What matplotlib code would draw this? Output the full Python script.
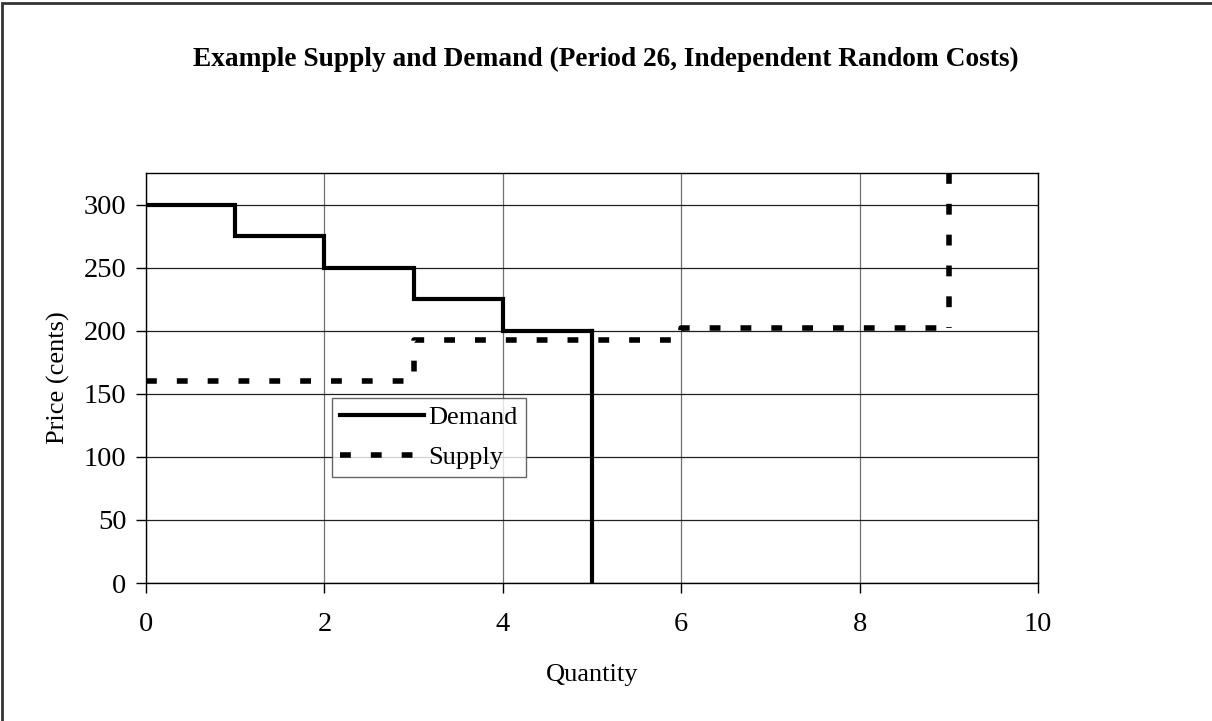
import matplotlib
matplotlib.use("Agg")
import matplotlib.pyplot as plt
from matplotlib.patches import Rectangle

# Step data: each unit's value, drawn as flat steps
demand_qty = [0, 1, 2, 3, 4, 5]
demand_price = [300, 275, 250, 225, 200, 200]
supply_qty = [0, 3, 6, 9]
supply_price = [160, 193, 202, 202]
supply_cap = 9
x_ticks = [0, 2, 4, 6, 8, 10]
y_ticks = [0, 50, 100, 150, 200, 250, 300]
y_max = 325

plt.rcParams['font.family'] = ['Liberation Serif', 'DejaVu Serif']

fig = plt.figure(figsize=(12.12, 7.21), dpi=100)
ax = fig.add_axes([0.1205, 0.1914, 0.7359, 0.5686])

dash = (0, (1.95, 3.6))

# Demand: steps down, then vertical drop to zero at the last unit
ax.step(demand_qty, demand_price, where='post', color='black', lw=3.0,
        solid_joinstyle='miter', label='Demand', zorder=4)
ax.plot([demand_qty[-1], demand_qty[-1]], [demand_price[-1], 0], color='black',
        lw=3.0, zorder=4)

# Supply: steps up, then vertical at capacity running off the top
ax.step(supply_qty, supply_price, where='post', color='black', lw=4.0,
        linestyle=dash, label='Supply', zorder=3)
ax.plot([supply_cap, supply_cap], [y_max, supply_price[-1]], color='black', lw=4.0,
        linestyle=dash, zorder=3)

ax.set_xlim(0, 10)
ax.set_ylim(0, y_max)
ax.set_xticks(x_ticks)
ax.set_yticks(y_ticks)
ax.xaxis.grid(True, color='#707070', lw=0.9)
ax.yaxis.grid(True, color='#202020', lw=0.9)
ax.set_axisbelow(True)
for s in ax.spines.values():
    s.set_color('black')
    s.set_linewidth(1.0)
ax.tick_params(axis='both', direction='out', length=7, width=1, labelsize=20.5,
               colors='black')
ax.tick_params(axis='y', pad=7)
ax.tick_params(axis='x', pad=14)

ax.set_xlabel('Quantity', fontsize=19, labelpad=19)
ax.set_ylabel('Price (cents)', fontsize=19, labelpad=10)
fig.text(0.5, 0.918, 'Example Supply and Demand (Period 26, Independent Random Costs)',
         ha='center', va='center', fontsize=19.7, fontweight='bold')

leg = ax.legend(loc='upper left', bbox_to_anchor=(0.2085, 0.451), fontsize=19,
                frameon=True, fancybox=False, borderpad=0.3, handlelength=3.2,
                handletextpad=0.15, labelspacing=0.6, borderaxespad=0)
leg.get_frame().set_edgecolor('#404040')
leg.get_frame().set_linewidth(1.0)
leg.set_zorder(6)

# Outer chart frame
fig.patches.append(Rectangle((2 / 1212, -0.05), 1.2, 1 - 3 / 721 + 0.05,
                             transform=fig.transFigure, fill=False,
                             edgecolor='#333333', lw=2))

fig.savefig('out.png', dpi=100)
